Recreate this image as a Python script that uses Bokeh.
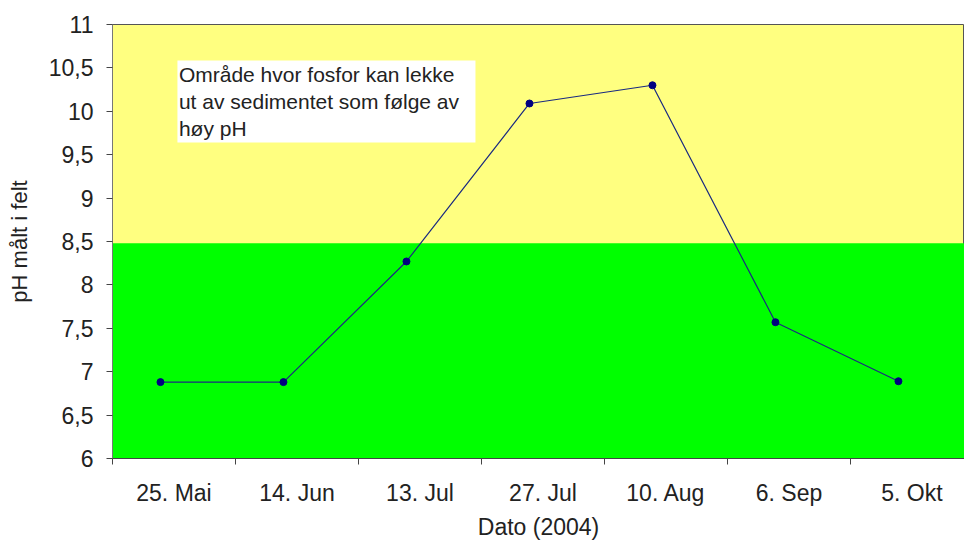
from bokeh.plotting import figure
from bokeh.models import (Range1d, FixedTicker, BoxAnnotation, Label)
from bokeh.embed import file_html
from bokeh.resources import INLINE

# ---- data ----
dates = ["25. Mai", "14. Jun", "13. Jul", "27. Jul", "10. Aug", "6. Sep", "5. Okt"]
ph_values = [6.88, 6.88, 8.27, 10.09, 10.30, 7.57, 6.89]
y_ticks = [6, 6.5, 7, 7.5, 8, 8.5, 9, 9.5, 10, 10.5, 11]
y_tick_labels = ["6", "6,5", "7", "7,5", "8", "8,5", "9", "9,5", "10", "10,5", "11"]
threshold = 8.48
note_lines = ["Område hvor fosfor kan lekke",
              "ut av sedimentet som følge av",
              "høy pH"]
x_title = "Dato (2004)"
y_title = "pH målt i felt"

FONT = "Liberation Sans"
TXT = "#222222"

n = len(dates)
x_pos = [i + 0.39 for i in range(n)]
cat_centers = [i + 0.5 for i in range(n)]
cat_bounds = list(range(n + 1))

p = figure(width=964, height=543, output_backend="svg", toolbar_location=None,
           x_range=Range1d(0, 6.927), y_range=Range1d(6, 11),
           min_border_left=112, min_border_right=0, min_border_top=24,
           min_border_bottom=85, background_fill_color="#FFFF80",
           border_fill_color="white", outline_line_color="#555555",
           outline_line_width=1)
p.xgrid.visible = False
p.ygrid.visible = False

# green zone
p.add_layout(BoxAnnotation(bottom=6, top=threshold, fill_color="#00FF00",
                           fill_alpha=1, line_color=None, level="underlay"))

# note box
p.add_layout(BoxAnnotation(left=0.528, right=2.951, bottom=9.64, top=10.585,
                           fill_color="white", fill_alpha=1, line_color=None))
p.add_layout(Label(x=0.54, y=10.56, text="\n".join(note_lines),
                   text_font=FONT, text_font_size="21px", text_color=TXT,
                   text_baseline="top", text_align="left", text_line_height=1.18))

# series
p.line(x_pos, ph_values, line_color="#1a2a80", line_width=1.2)
p.scatter(x_pos, ph_values, size=7, fill_color="#000080", line_color="#000080")

# x axis
xa = p.xaxis[0]
xa.ticker = FixedTicker(ticks=cat_centers, minor_ticks=cat_bounds)
xa.major_label_overrides = {c: d for c, d in zip(cat_centers, dates)}
xa.major_tick_line_color = None
xa.major_tick_out = 6
xa.major_tick_in = 0
xa.minor_tick_line_color = "#444444"
xa.minor_tick_out = 6
xa.minor_tick_in = 0
xa.axis_line_color = "#444444"
xa.major_label_text_font = FONT
xa.major_label_text_font_size = "23px"
xa.major_label_text_color = TXT
xa.major_label_standoff = 15
xa.axis_label = x_title
xa.axis_label_text_font = FONT
xa.axis_label_text_font_size = "23px"
xa.axis_label_text_font_style = "normal"
xa.axis_label_text_color = TXT
xa.axis_label_standoff = 5

# y axis
ya = p.yaxis[0]
ya.ticker = FixedTicker(ticks=y_ticks, minor_ticks=[])
ya.major_label_overrides = {t: l for t, l in zip(y_ticks, y_tick_labels)}
ya.major_tick_line_color = "#444444"
ya.major_tick_out = 6
ya.major_tick_in = 0
ya.minor_tick_line_color = None
ya.axis_line_color = "#777777"
ya.major_label_text_font = FONT
ya.major_label_text_font_size = "23px"
ya.major_label_text_color = TXT
ya.major_label_standoff = 13
ya.axis_label = y_title
ya.axis_label_text_font = FONT
ya.axis_label_text_font_size = "22px"
ya.axis_label_text_font_style = "normal"
ya.axis_label_text_color = TXT
ya.axis_label_standoff = 14

open("out.html", "w").write(file_html(p, INLINE))
